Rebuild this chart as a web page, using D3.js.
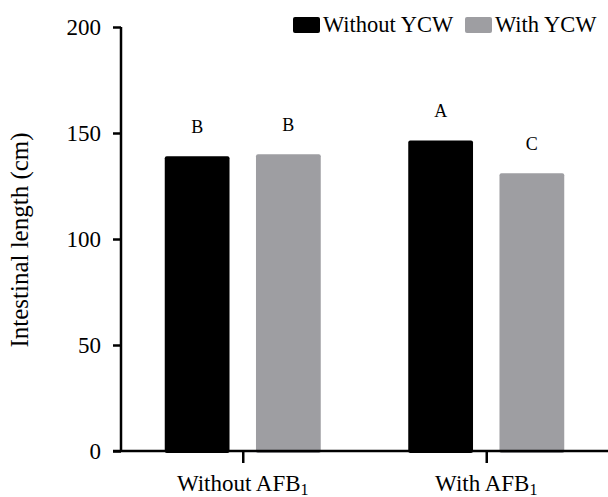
<!DOCTYPE html>
<html>
<head>
<meta charset="utf-8">
<script src="https://cdn.jsdelivr.net/npm/d3@7"></script>
<style>
  body { margin: 0; background: #fff; }
  text { font-family: "Liberation Serif", "Times New Roman", serif; fill: #000; }
</style>
</head>
<body>
<div id="chart"></div>
<script>
const groups = ["Without AFB1", "With AFB1"];
const series = ["Without YCW", "With YCW"];
const withoutYCW = [139, 146.5];
const withYCW = [140, 131];
const letters = [["B", "A"], ["B", "C"]];
const yTicks = [0, 50, 100, 150, 200];

const fullWidth = 608, fullHeight = 497;
const margin = { top: 27, right: 0, bottom: 46, left: 121 };
const height = fullHeight - margin.top - margin.bottom;

const svg = d3.select("#chart")
  .append("svg")
  .attr("width", fullWidth)
  .attr("height", fullHeight);

const x = d3.scalePoint()
  .domain(groups)
  .range([margin.left, fullWidth - margin.right])
  .padding(0.5);

const xSub = d3.scaleBand()
  .domain(series)
  .range([-78, 78])
  .paddingInner(0.29)
  .paddingOuter(0);

const y = d3.scaleLinear()
  .domain([0, 200])
  .range([margin.top + height, margin.top]);

const color = d3.scaleOrdinal().domain(series).range(["#000000", "#9e9ea2"]);

const data = [];
groups.forEach((g, i) => {
  data.push({ group: g, s: series[0], v: withoutYCW[i], l: letters[0][i] });
  data.push({ group: g, s: series[1], v: withYCW[i], l: letters[1][i] });
});

// === Bars ===
svg.selectAll("rect.bar")
  .data(data)
  .enter()
  .append("rect")
  .attr("class", "bar")
  .attr("x", (d) => x(d.group) + xSub(d.s))
  .attr("y", (d) => y(d.v))
  .attr("width", xSub.bandwidth())
  .attr("height", (d) => y(0) - y(d.v) + 2)
  .attr("rx", 2)
  .attr("fill", (d) => color(d.s));

// === Letters ===
svg.selectAll("text.sig")
  .data(data)
  .enter()
  .append("text")
  .attr("class", "sig")
  .attr("x", (d) => x(d.group) + xSub(d.s) + xSub.bandwidth() / 2)
  .attr("y", (d) => y(d.v) - 23)
  .attr("text-anchor", "middle")
  .style("font-size", "18px")
  .text((d) => d.l);

// === Y axis ===
const yAxis = svg.append("g")
  .attr("transform", `translate(${margin.left},0)`)
  .call(d3.axisLeft(y).tickValues(yTicks).tickSize(8).tickPadding(12));
yAxis.select(".domain").attr("d", `M0,${y(200)}V${y(0)}`).attr("stroke-width", 2.5);
yAxis.selectAll(".tick line").attr("stroke-width", 2.5);
yAxis.selectAll(".tick text")
  .style("font-family", "'Liberation Serif', serif")
  .style("font-size", "23px")
  .attr("fill", "#000");

// === X axis ===
const xAxis = svg.append("g")
  .attr("transform", `translate(0,${y(0)})`)
  .call(d3.axisBottom(x).tickSize(12).tickFormat(""));
xAxis.select(".domain").attr("d", `M${margin.left - 8},0H${fullWidth}`).attr("stroke-width", 2.5);
xAxis.selectAll(".tick line").attr("stroke-width", 2.5);

// x labels with subscript
groups.forEach((g) => {
  const t = svg.append("text")
    .attr("x", x(g))
    .attr("y", 491)
    .attr("text-anchor", "middle")
    .style("font-size", "23px");
  t.append("tspan").text(g.replace("AFB1", "AFB"));
  t.append("tspan").attr("dy", 4).style("font-size", "16px").text("1");
});

// === Y label ===
svg.append("text")
  .attr("transform", "translate(28,240) rotate(-90)")
  .attr("text-anchor", "middle")
  .style("font-size", "25px")
  .text("Intestinal length (cm)");

// === Legend ===
const legendX = [293, 465];
series.forEach((s, i) => {
  svg.append("rect")
    .attr("x", legendX[i])
    .attr("y", 17)
    .attr("width", 27)
    .attr("height", 16)
    .attr("rx", 2)
    .attr("fill", color(s));
  svg.append("text")
    .attr("x", legendX[i] + 30)
    .attr("y", 32)
    .style("font-size", "22.5px")
    .text(s);
});
</script>
</body>
</html>
